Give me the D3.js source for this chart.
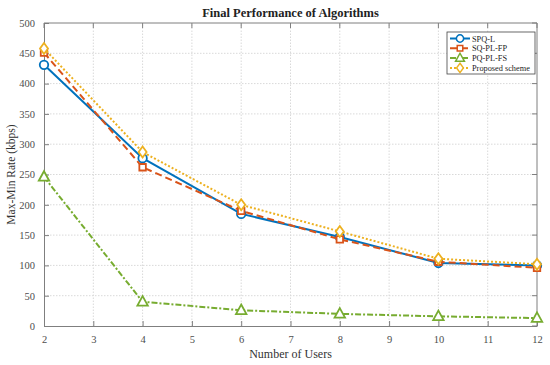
<!DOCTYPE html>
<html>
<head>
<meta charset="utf-8">
<script src="https://cdn.jsdelivr.net/npm/d3@7"></script>
<style>
  body { margin: 0; background: #fff; }
  text { font-family: "Liberation Serif", "DejaVu Serif", serif; }
</style>
</head>
<body>
<svg id="chart"></svg>
<script>
// data
const users = [2, 4, 6, 8, 10, 12];
const spqL = [431, 277, 185, 147, 104, 100];
const sqPlFp = [451, 262, 190, 143, 106, 96];
const pqPlFs = [246, 40, 26, 20, 16, 13];
const proposed = [458, 287, 200, 156, 111, 102];
const xTicks = [2, 3, 4, 5, 6, 7, 8, 9, 10, 11, 12];
const yTicks = [0, 50, 100, 150, 200, 250, 300, 350, 400, 450, 500];

const series = [
  { name: 'SPQ-L', values: spqL, color: '#0072BD', dash: null, marker: 'circle' },
  { name: 'SQ-PL-FP', values: sqPlFp, color: '#D95319', dash: '7,4', marker: 'square' },
  { name: 'PQ-PL-FS', values: pqPlFs, color: '#77AC30', dash: '6,2,2,2', marker: 'triangle' },
  { name: 'Proposed scheme', values: proposed, color: '#EDB120', dash: '2,2', marker: 'diamond' }
];

const width = 550, height = 365;
const margin = { top: 23, right: 13, bottom: 39, left: 44 };

const svg = d3.select('#chart')
  .attr('width', width)
  .attr('height', height)
  .attr('viewBox', [0, 0, width, height]);

const xScale = d3.scaleLinear([2, 12], [margin.left, width - margin.right]);
const yScale = d3.scaleLinear([0, 500], [height - margin.bottom, margin.top]);

const x0 = xScale.range()[0], x1 = xScale.range()[1];
const y0 = yScale.range()[0], y1 = yScale.range()[1];

// grid
svg.append('g')
  .selectAll('line')
  .data(xTicks.slice(1, -1))
  .join('line')
    .attr('x1', d => xScale(d)).attr('x2', d => xScale(d))
    .attr('y1', y0).attr('y2', y1)
    .attr('stroke', '#d9d9d9').attr('stroke-dasharray', '1.5,1.5');
svg.append('g')
  .selectAll('line')
  .data(yTicks.slice(1, -1))
  .join('line')
    .attr('x1', x0).attr('x2', x1)
    .attr('y1', d => yScale(d)).attr('y2', d => yScale(d))
    .attr('stroke', '#d9d9d9').attr('stroke-dasharray', '1.5,1.5');

// axes (MATLAB style: inward ticks, box)
const axisColor = '#7f7f7f';
const xAxis = svg.append('g')
  .attr('transform', `translate(0,${y0})`)
  .call(d3.axisBottom(xScale).tickValues(xTicks).tickSizeInner(-5).tickSizeOuter(0).tickPadding(10));
const yAxis = svg.append('g')
  .attr('transform', `translate(${x0},0)`)
  .call(d3.axisLeft(yScale).tickValues(yTicks).tickSizeInner(-5).tickSizeOuter(0).tickPadding(9));
[xAxis, yAxis].forEach(g => {
  g.selectAll('.domain').attr('stroke', axisColor);
  g.selectAll('.tick line').attr('stroke', axisColor);
  g.selectAll('.tick text')
    .attr('fill', '#4d4d4d')
    .style('font-family', '"Liberation Serif", serif')
    .style('font-size', '10.5px');
});
// top and right box edges with ticks
svg.append('line').attr('x1', x0).attr('x2', x1).attr('y1', y1).attr('y2', y1).attr('stroke', axisColor);
svg.append('line').attr('x1', x1).attr('x2', x1).attr('y1', y0).attr('y2', y1).attr('stroke', axisColor);
svg.append('g').selectAll('line').data(xTicks).join('line')
  .attr('x1', d => xScale(d)).attr('x2', d => xScale(d))
  .attr('y1', y1).attr('y2', y1 + 5).attr('stroke', axisColor);
svg.append('g').selectAll('line').data(yTicks).join('line')
  .attr('x1', x1).attr('x2', x1 - 5)
  .attr('y1', d => yScale(d)).attr('y2', d => yScale(d)).attr('stroke', axisColor);

// markers
const markerPath = (type, s) => {
  if (type === 'circle') return d3.symbol(d3.symbolCircle, s * s * Math.PI / 4)();
  if (type === 'square') return `M${-s / 2},${-s / 2}h${s}v${s}h${-s}Z`;
  if (type === 'triangle') return `M0,${-s * 0.6}L${s * 0.55},${s * 0.4}L${-s * 0.55},${s * 0.4}Z`;
  return `M0,${-s * 0.55}L${s * 0.4},0L0,${s * 0.55}L${-s * 0.4},0Z`;
};
const markerSize = { circle: 8.5, square: 6.5, triangle: 9.5, diamond: 10 };

const line = d3.line().x((d, i) => xScale(users[i])).y(d => yScale(d));

series.forEach(s => {
  svg.append('path')
    .attr('d', line(s.values))
    .attr('fill', 'none')
    .attr('stroke', s.color)
    .attr('stroke-width', 2)
    .attr('stroke-dasharray', s.dash);
  svg.append('g')
    .selectAll('path')
    .data(s.values)
    .join('path')
      .attr('transform', (d, i) => `translate(${xScale(users[i])},${yScale(d)})`)
      .attr('d', markerPath(s.marker, markerSize[s.marker]))
      .attr('fill', '#fff')
      .attr('stroke', s.color)
      .attr('stroke-width', 1.8);
});

// title and axis labels
svg.append('text')
  .attr('x', (x0 + x1) / 2).attr('y', 17)
  .attr('text-anchor', 'middle')
  .style('font-size', '12.5px').style('font-weight', 'bold')
  .attr('fill', '#222')
  .text('Final Performance of Algorithms');
svg.append('text')
  .attr('x', (x0 + x1) / 2).attr('y', height - 7)
  .attr('text-anchor', 'middle')
  .style('font-size', '12px')
  .attr('fill', '#333')
  .text('Number of Users');
svg.append('text')
  .attr('transform', `translate(15,${(y0 + y1) / 2}) rotate(-90)`)
  .attr('text-anchor', 'middle')
  .style('font-size', '11.5px')
  .attr('fill', '#333')
  .text('Max-Min Rate (kbps)');

// legend
const lg = svg.append('g').attr('transform', 'translate(447,32)');
lg.append('rect')
  .attr('width', 88).attr('height', 42)
  .attr('fill', '#fff').attr('stroke', '#444').attr('stroke-width', 0.8);
series.forEach((s, i) => {
  const yy = 6.5 + i * 9.8;
  lg.append('line')
    .attr('x1', 3).attr('x2', 23).attr('y1', yy).attr('y2', yy)
    .attr('stroke', s.color).attr('stroke-width', 2)
    .attr('stroke-dasharray', s.dash);
  lg.append('path')
    .attr('transform', `translate(13,${yy})`)
    .attr('d', markerPath(s.marker, markerSize[s.marker] * 0.85))
    .attr('fill', '#fff').attr('stroke', s.color).attr('stroke-width', 1.5);
  lg.append('text')
    .attr('x', 25).attr('y', yy + 3)
    .style('font-size', '8.3px')
    .attr('fill', '#222')
    .text(s.name);
});
</script>
</body>
</html>
